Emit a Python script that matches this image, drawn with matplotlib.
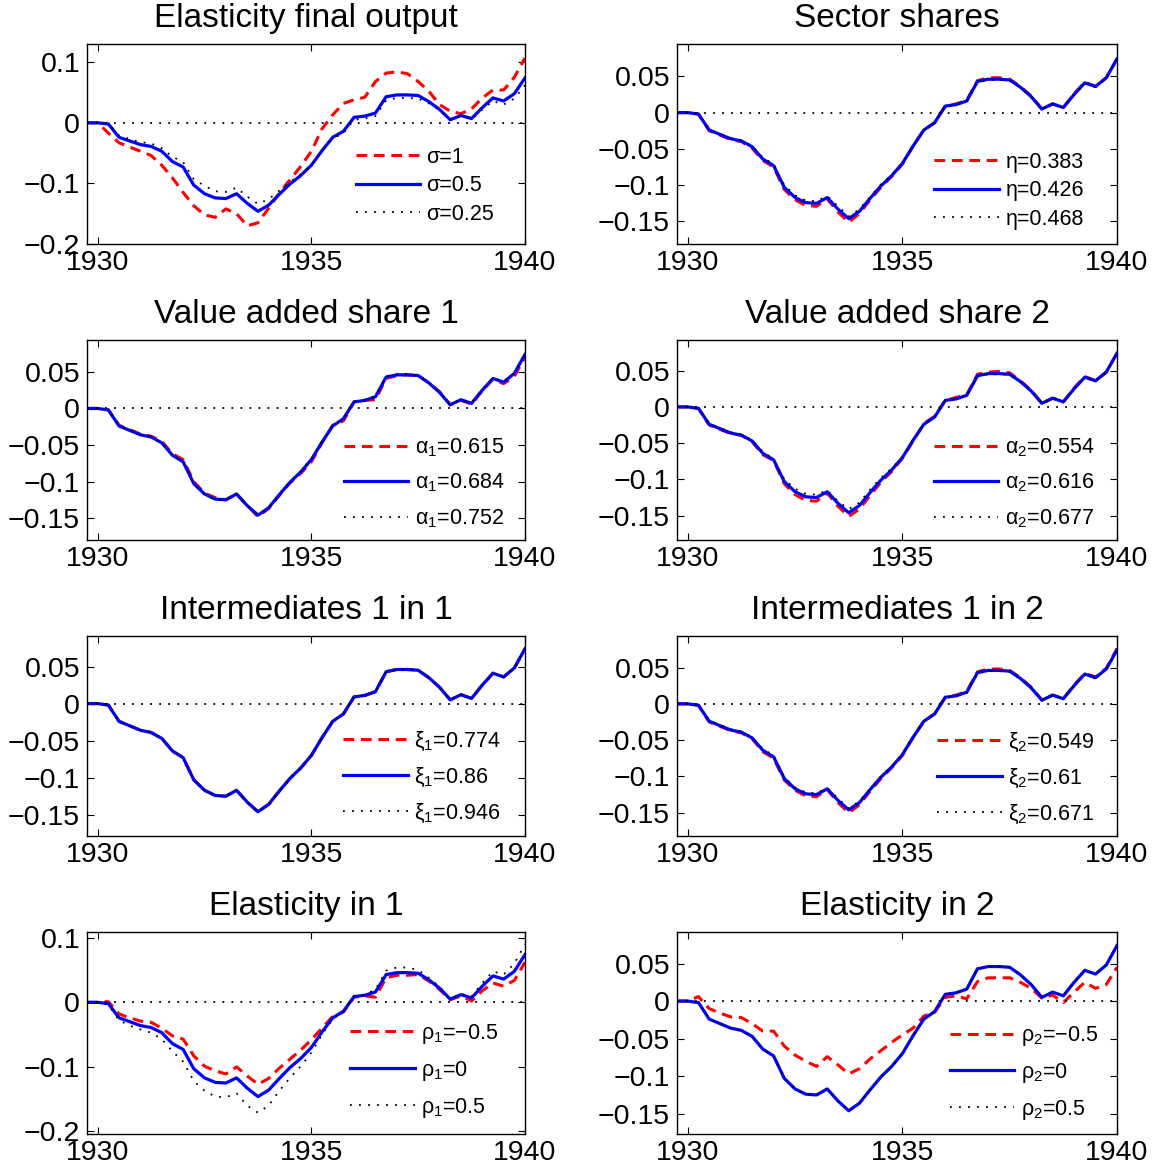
import numpy as np
import matplotlib
matplotlib.use('Agg')
import matplotlib.pyplot as plt
from matplotlib.ticker import FuncFormatter

plt.rcParams['font.family'] = ['Liberation Sans', 'DejaVu Sans']
plt.rcParams['mathtext.fontset'] = 'custom'
plt.rcParams['mathtext.rm'] = 'Liberation Sans'
plt.rcParams['mathtext.it'] = 'Liberation Sans'

# quarterly dates 1929Q4 .. 1940Q1
quarters = np.arange(1929.75, 1940.01, 0.25)

# baseline simulation (blue line in every panel)
base = [0, 0, -0.002, -0.024, -0.030, -0.036, -0.039, -0.047, -0.064, -0.073,
        -0.103, -0.117, -0.124, -0.125, -0.117, -0.133, -0.146, -0.136, -0.118, -0.101,
        -0.087, -0.070, -0.046, -0.024, -0.014, 0.009, 0.011, 0.016, 0.043, 0.046,
        0.046, 0.045, 0.035, 0.022, 0.005, 0.012, 0.007, 0.025, 0.041, 0.036,
        0.048, 0.074]

# elasticity final output
sigma_1 = [0, 0, -0.017, -0.033, -0.040, -0.047, -0.054, -0.070, -0.091, -0.115,
           -0.137, -0.152, -0.156, -0.142, -0.150, -0.170, -0.165, -0.141, -0.116, -0.094,
           -0.072, -0.047, -0.010, 0.013, 0.032, 0.038, 0.042, 0.068, 0.082, 0.084,
           0.081, 0.068, 0.052, 0.030, 0.019, 0.015, 0.023, 0.041, 0.054, 0.054,
           0.075, 0.107]
sigma_025 = [0, 0, -0.001, -0.021, -0.027, -0.032, -0.034, -0.042, -0.056, -0.065,
             -0.093, -0.104, -0.113, -0.114, -0.107, -0.122, -0.134, -0.126, -0.112, -0.098,
             -0.085, -0.070, -0.047, -0.026, -0.017, 0.005, 0.007, 0.011, 0.037, 0.041,
             0.041, 0.040, 0.032, 0.021, 0.005, 0.011, 0.006, 0.022, 0.036, 0.030,
             0.040, 0.062]

# sector shares
eta_low = [0, 0, -0.002, -0.025, -0.031, -0.037, -0.040, -0.049, -0.066, -0.075,
           -0.106, -0.120, -0.128, -0.129, -0.119, -0.137, -0.151, -0.139, -0.120, -0.103,
           -0.088, -0.071, -0.046, -0.024, -0.014, 0.009, 0.012, 0.017, 0.044, 0.048,
           0.048, 0.046, 0.036, 0.023, 0.005, 0.012, 0.007, 0.026, 0.042, 0.036,
           0.048, 0.074]
eta_high = [0, 0, -0.002, -0.023, -0.029, -0.035, -0.038, -0.046, -0.062, -0.071,
            -0.100, -0.114, -0.121, -0.122, -0.115, -0.129, -0.143, -0.133, -0.116, -0.099,
            -0.086, -0.069, -0.046, -0.024, -0.014, 0.009, 0.011, 0.015, 0.042, 0.045,
            0.045, 0.044, 0.034, 0.022, 0.005, 0.012, 0.007, 0.025, 0.040, 0.035,
            0.047, 0.073]

# value added share 1
alpha1_low = [0, 0, -0.002, -0.023, -0.029, -0.035, -0.038, -0.045, -0.062, -0.070,
              -0.100, -0.116, -0.122, -0.125, -0.117, -0.133, -0.148, -0.137, -0.119, -0.102,
              -0.089, -0.073, -0.047, -0.023, -0.017, 0.009, 0.011, 0.012, 0.041, 0.045,
              0.046, 0.045, 0.035, 0.023, 0.005, 0.011, 0.006, 0.024, 0.040, 0.034,
              0.044, 0.070]
alpha1_high = [0, 0, -0.002, -0.024, -0.030, -0.036, -0.039, -0.047, -0.064, -0.073,
               -0.104, -0.118, -0.125, -0.125, -0.117, -0.133, -0.145, -0.136, -0.117, -0.100,
               -0.086, -0.069, -0.045, -0.024, -0.013, 0.009, 0.012, 0.017, 0.044, 0.047,
               0.047, 0.045, 0.035, 0.022, 0.005, 0.012, 0.008, 0.026, 0.042, 0.037,
               0.049, 0.075]

# value added share 2
alpha2_low = [0, 0, -0.002, -0.025, -0.031, -0.037, -0.039, -0.048, -0.066, -0.074,
              -0.106, -0.121, -0.129, -0.130, -0.119, -0.137, -0.151, -0.141, -0.122, -0.104,
              -0.089, -0.071, -0.047, -0.023, -0.013, 0.009, 0.013, 0.017, 0.045, 0.048,
              0.049, 0.047, 0.036, 0.023, 0.005, 0.012, 0.007, 0.026, 0.042, 0.036,
              0.048, 0.074]
alpha2_high = [0, 0, -0.002, -0.023, -0.029, -0.035, -0.038, -0.046, -0.062, -0.072,
               -0.100, -0.113, -0.120, -0.121, -0.115, -0.130, -0.141, -0.132, -0.114, -0.098,
               -0.085, -0.069, -0.046, -0.024, -0.014, 0.009, 0.011, 0.015, 0.042, 0.045,
               0.045, 0.044, 0.034, 0.022, 0.005, 0.012, 0.007, 0.025, 0.040, 0.036,
               0.048, 0.074]

# intermediates 1 in 1 (all three overlap the baseline)
xi1_low = list(base)
xi1_high = list(base)

# intermediates 1 in 2
xi2_low = [0, 0, -0.002, -0.025, -0.031, -0.037, -0.040, -0.048, -0.066, -0.075,
           -0.105, -0.119, -0.127, -0.128, -0.118, -0.136, -0.150, -0.139, -0.120, -0.103,
           -0.088, -0.071, -0.046, -0.024, -0.014, 0.009, 0.012, 0.017, 0.044, 0.048,
           0.048, 0.046, 0.036, 0.023, 0.005, 0.012, 0.007, 0.026, 0.042, 0.037,
           0.049, 0.076]
xi2_high = [0, 0, -0.002, -0.023, -0.029, -0.035, -0.038, -0.046, -0.062, -0.071,
            -0.101, -0.115, -0.122, -0.123, -0.116, -0.130, -0.144, -0.134, -0.117, -0.100,
            -0.086, -0.069, -0.046, -0.024, -0.014, 0.009, 0.011, 0.015, 0.042, 0.045,
            0.045, 0.044, 0.034, 0.022, 0.005, 0.012, 0.007, 0.025, 0.040, 0.035,
            0.047, 0.073]

# elasticity in 1
rho1_neg = [0, 0, 0.001, -0.018, -0.024, -0.029, -0.031, -0.040, -0.052, -0.057,
            -0.083, -0.099, -0.106, -0.111, -0.100, -0.114, -0.127, -0.118, -0.102, -0.088,
            -0.074, -0.058, -0.040, -0.022, -0.015, 0.008, 0.010, 0.008, 0.038, 0.042,
            0.042, 0.043, 0.033, 0.020, 0.004, 0.010, 0.002, 0.018, 0.030, 0.025,
            0.034, 0.062]
rho1_pos = [0, 0, -0.003, -0.028, -0.036, -0.042, -0.047, -0.057, -0.076, -0.092,
            -0.122, -0.137, -0.146, -0.147, -0.141, -0.160, -0.171, -0.160, -0.137, -0.117,
            -0.099, -0.078, -0.050, -0.026, -0.014, 0.010, 0.012, 0.020, 0.049, 0.054,
            0.054, 0.050, 0.038, 0.024, 0.005, 0.013, 0.009, 0.030, 0.048, 0.043,
            0.060, 0.090]

# elasticity in 2
rho2_neg = [0, 0, 0.006, -0.010, -0.016, -0.021, -0.022, -0.030, -0.040, -0.040,
            -0.060, -0.072, -0.080, -0.087, -0.074, -0.085, -0.097, -0.090, -0.077, -0.066,
            -0.055, -0.045, -0.036, -0.020, -0.015, 0.005, 0.007, 0.003, 0.026, 0.031,
            0.031, 0.031, 0.025, 0.017, 0.004, 0.008, -0.002, 0.012, 0.025, 0.017,
            0.022, 0.045]
rho2_pos = list(base)

titles = ['Elasticity final output', 'Sector shares',
          'Value added share 1', 'Value added share 2',
          'Intermediates 1 in 1', 'Intermediates 1 in 2',
          'Elasticity in 1', 'Elasticity in 2']
low_series = [sigma_1, eta_low, alpha1_low, alpha2_low, xi1_low, xi2_low, rho1_neg, rho2_neg]
high_series = [sigma_025, eta_high, alpha1_high, alpha2_high, xi1_high, xi2_high, rho1_pos, rho2_pos]
labels = [
    ['σ=1', 'σ=0.5', 'σ=0.25'],
    ['η=0.383', 'η=0.426', 'η=0.468'],
    ['α$_1$=0.615', 'α$_1$=0.684', 'α$_1$=0.752'],
    ['α$_2$=0.554', 'α$_2$=0.616', 'α$_2$=0.677'],
    ['ξ$_1$=0.774', 'ξ$_1$=0.86', 'ξ$_1$=0.946'],
    ['ξ$_2$=0.549', 'ξ$_2$=0.61', 'ξ$_2$=0.671'],
    ['ρ$_1$=\u22120.5', 'ρ$_1$=0', 'ρ$_1$=0.5'],
    ['ρ$_2$=\u22120.5', 'ρ$_2$=0', 'ρ$_2$=0.5'],
]

# layout (pixels of a 1163x1165 canvas)
W, H = 1163.0, 1165.0
col_x = [(87, 525), (677, 1117)]
row_y = [(44, 244), (340, 540), (636, 836), (932, 1134)]
ylims = [(-0.2, 0.13), (-0.181, 0.0945), (-0.18, 0.0937), (-0.1836, 0.0923),
         (-0.1787, 0.0912), (-0.182, 0.0934), (-0.204, 0.109), (-0.177, 0.092)]
yticks_big = [-0.2, -0.1, 0, 0.1]
yticks_small = [-0.15, -0.1, -0.05, 0, 0.05]
leg_anchor = [(0.93, 0.095), (0.925, 0.07), (0.952, 0.05), (0.948, 0.05),
              (0.945, 0.055), (0.948, 0.05), (0.94, 0.07), (0.957, 0.06)]
leg_spacing = [0.35, 0.35, 0.6, 0.6, 0.6, 0.6, 0.6, 0.6]


def fmt(v, pos):
    s = '%g' % round(v, 4)
    return s.replace('-', '\u2212')


fig = plt.figure(figsize=(11.63, 11.65), dpi=100)

for i in range(8):
    r, c = divmod(i, 2)
    x0, x1 = col_x[c]
    y0, y1 = row_y[r]
    ax = fig.add_axes([x0 / W, 1 - y1 / H, (x1 - x0) / W, (y1 - y0) / H])

    ax.plot(quarters, low_series[i], color='r', lw=2.2, ls=(0, (3.5, 2.2)), label=labels[i][0])
    ax.plot(quarters, base, color='b', lw=2.3, label=labels[i][1])
    ax.plot(quarters, high_series[i], color='k', lw=1.3, ls=(0, (1, 4)), label=labels[i][2])
    ax.axhline(0, color='k', lw=1.3, ls=(0, (1, 4)))

    ax.set_xlim(1929.75, 1940)
    ax.set_ylim(*ylims[i])
    ax.set_xticks([1930, 1935, 1940])
    if i in (0, 6):
        ax.set_yticks(yticks_big)
    else:
        ax.set_yticks(yticks_small)
    ax.yaxis.set_major_formatter(FuncFormatter(fmt))
    ax.tick_params(direction='in', top=True, right=True, length=5, width=0.8,
                   labelsize=20.5, pad=5)
    ax.tick_params(axis='x', pad=4)
    for sp in ax.spines.values():
        sp.set_linewidth(1.0)
    ax.set_title(titles[i], fontsize=24, pad=12)

    ax.legend(loc='lower right', bbox_to_anchor=leg_anchor[i], frameon=False,
              fontsize=15.5, handlelength=3.0, handletextpad=0.3,
              labelspacing=leg_spacing[i], borderpad=0, borderaxespad=0)

fig.savefig('out.png', dpi=100)
